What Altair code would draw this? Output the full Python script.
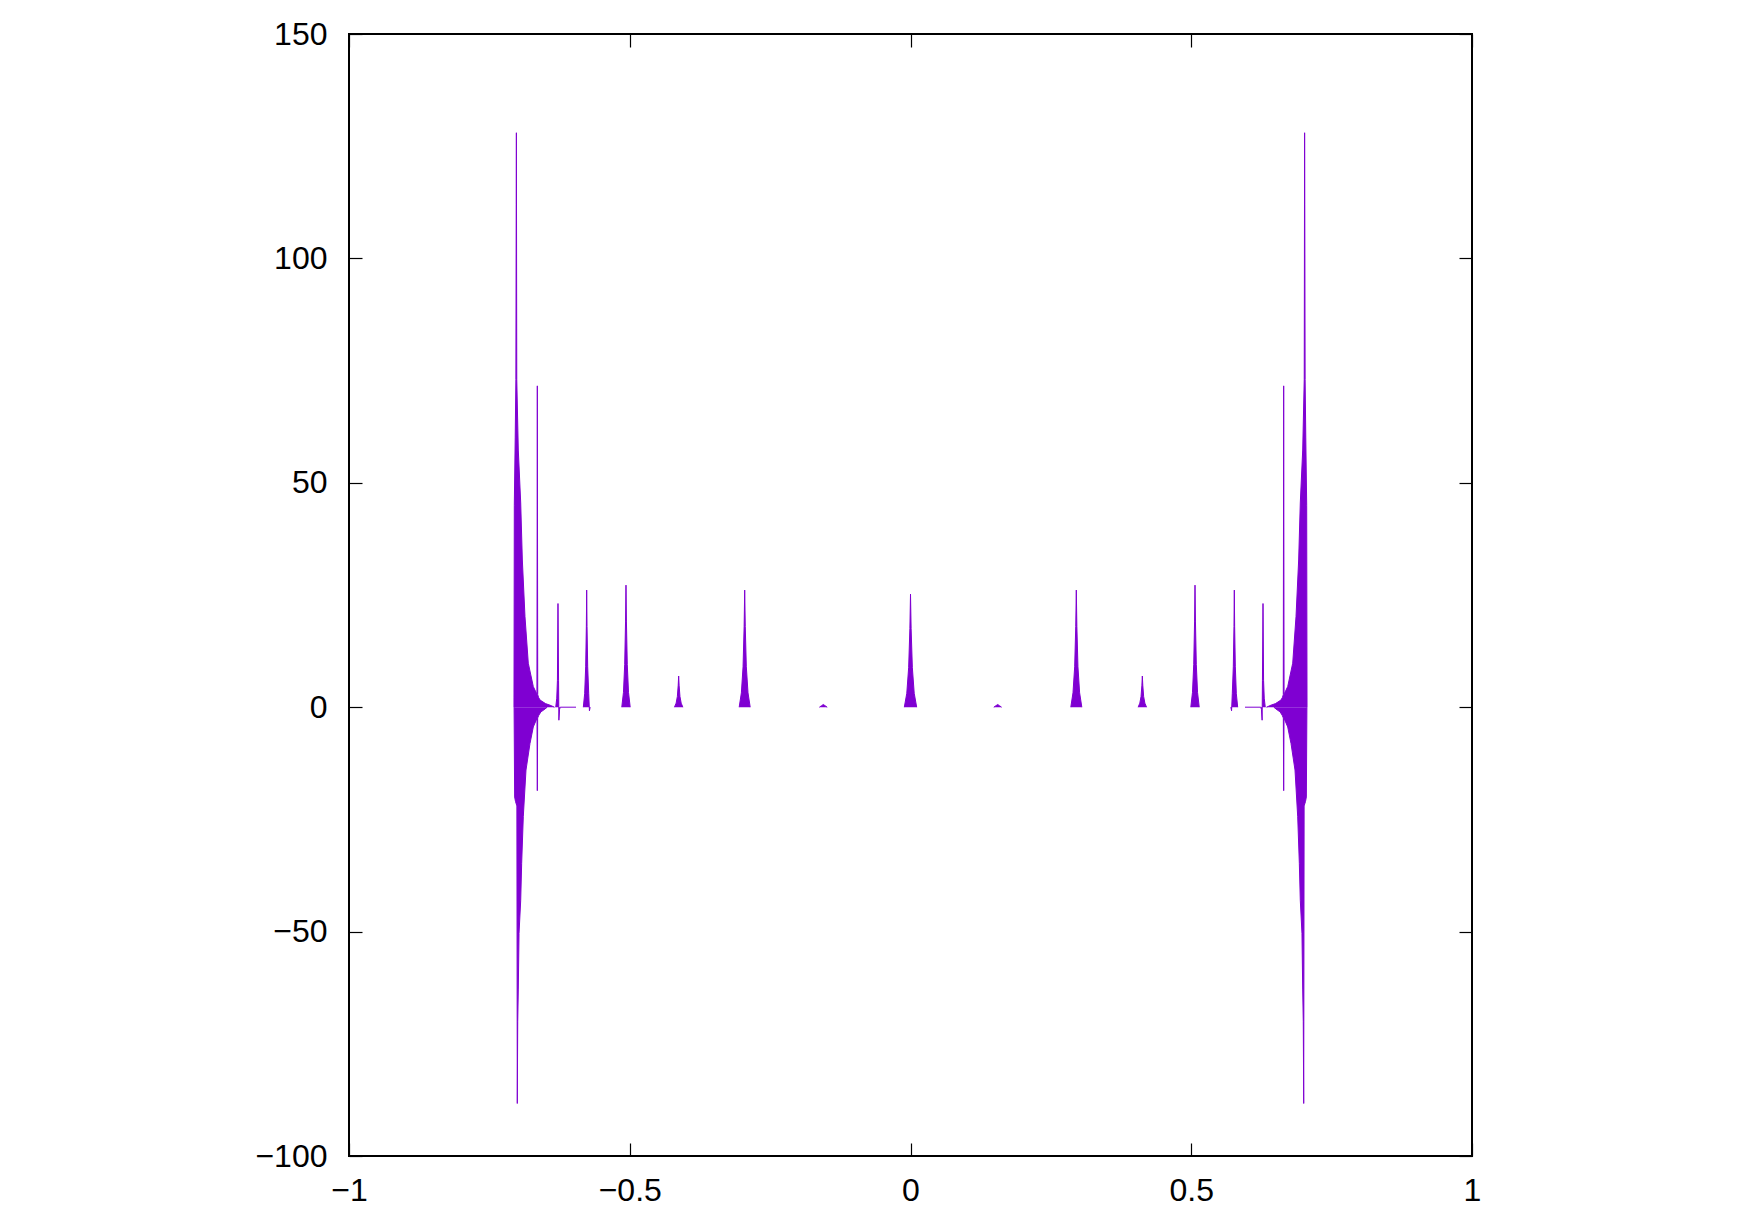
import altair as alt
import pandas as pd

# ---- data (x, y pairs grouped into drawn segments) ----
seg_left_cluster_up_x = [-0.7062, -0.7056, -0.7040, -0.7028, -0.7022, -0.7019, -0.7012, -0.7000, -0.6985, -0.6942,
                         -0.6913, -0.6866, -0.6807, -0.6718, -0.6665, -0.6653, -0.6646, -0.6639, -0.6625, -0.6598,
                         -0.6500, -0.6420, -0.6340]
seg_left_cluster_up_y = [0, 45, 60, 73, 112, 128, 73, 66, 57.3, 45.5,
                         32.8, 20.2, 9.8, 4.6, 3.2, 3.0, 71.6, 2.8, 2.2, 1.6,
                         0.8, 0.45, 0]
seg_left_cluster_dn_x = [-0.7060, -0.7050, -0.7035, -0.7010, -0.7003, -0.6995, -0.6985, -0.6972, -0.6942, -0.6925,
                         -0.6896, -0.6848, -0.6777, -0.6718, -0.6670, -0.6652, -0.6646, -0.6640, -0.6620, -0.6580,
                         -0.6540, -0.6470]
seg_left_cluster_dn_y = [0, -20, -21, -22, -88.3, -70, -63, -50.4, -43, -34.8,
                         -24.4, -14, -8.1, -4.4, -3.0, -2.6, -18.6, -2.4, -1.8, -1.0,
                         -0.7, 0]
peak_m0628_x = [-0.6318, -0.6300, -0.6288, -0.6278, -0.6268, -0.6262, -0.6250, -0.6238]
peak_m0628_y = [0, 2, 6, 23.1, 6, -2.9, -0.5, 0]
flat_left_x = [-0.6238, -0.5957]
flat_left_y = [0, 0]
peak_m0577_x = [-0.5827, -0.5803, -0.5785, -0.5773, -0.5767, -0.5761, -0.5749, -0.5731, -0.5718, -0.5705]
peak_m0577_y = [0, 3, 9, 18, 26.1, 18, 9, 3, -0.8, 0]
peak_m0507_x = [-0.5142, -0.5112, -0.5090, -0.5075, -0.5067, -0.5059, -0.5044, -0.5022, -0.4992]
peak_m0507_y = [0, 3.3, 9.5, 19, 27.2, 19, 9.5, 3.3, 0]
peak_m0413_x = [-0.4204, -0.4174, -0.4152, -0.4137, -0.4129, -0.4121, -0.4106, -0.4084, -0.4054]
peak_m0413_y = [0, 0.9, 2.4, 4.9, 6.95, 4.9, 2.4, 0.9, 0]
peak_m0295_x = [-0.3051, -0.3012, -0.2982, -0.2963, -0.2953, -0.2943, -0.2924, -0.2894, -0.2855]
peak_m0295_y = [0, 3.2, 9, 18, 26.1, 18, 9, 3.2, 0]
bump_m0155_x = [-0.1623, -0.1583, -0.1553, -0.1523, -0.1483]
bump_m0155_y = [0, 0.35, 0.6, 0.35, 0]
peak_0_x = [-0.0110, -0.0066, -0.0033, -0.0011, 0.0, 0.0011, 0.0033, 0.0066, 0.0110]
peak_0_y = [0, 3.1, 8.8, 17.5, 25.2, 17.5, 8.8, 3.1, 0]
bump_p0155_x = [0.1483, 0.1523, 0.1553, 0.1583, 0.1623]
bump_p0155_y = [0, 0.35, 0.6, 0.35, 0]
peak_p0295_x = [0.2855, 0.2894, 0.2924, 0.2943, 0.2953, 0.2963, 0.2982, 0.3012, 0.3051]
peak_p0295_y = [0, 3.2, 9, 18, 26.1, 18, 9, 3.2, 0]
peak_p0413_x = [0.4054, 0.4084, 0.4106, 0.4121, 0.4129, 0.4137, 0.4152, 0.4174, 0.4204]
peak_p0413_y = [0, 0.9, 2.4, 4.9, 6.95, 4.9, 2.4, 0.9, 0]
peak_p0507_x = [0.4992, 0.5022, 0.5044, 0.5059, 0.5067, 0.5075, 0.5090, 0.5112, 0.5142]
peak_p0507_y = [0, 3.3, 9.5, 19, 27.2, 19, 9.5, 3.3, 0]
peak_p0577_x = [0.5705, 0.5718, 0.5731, 0.5749, 0.5761, 0.5767, 0.5773, 0.5785, 0.5803, 0.5827]
peak_p0577_y = [0, -0.8, 3, 9, 18, 26.1, 18, 9, 3, 0]
flat_right_x = [0.5957, 0.6238]
flat_right_y = [0, 0]
peak_p0628_x = [0.6238, 0.6250, 0.6262, 0.6268, 0.6278, 0.6288, 0.6300, 0.6318]
peak_p0628_y = [0, -0.5, -2.9, 6, 23.1, 6, 2, 0]
seg_right_cluster_up_x = [0.6340, 0.6420, 0.6500, 0.6598, 0.6625, 0.6639, 0.6646, 0.6653, 0.6665, 0.6718,
                          0.6807, 0.6866, 0.6913, 0.6942, 0.6985, 0.7000, 0.7012, 0.7019, 0.7022, 0.7028,
                          0.7040, 0.7056, 0.7062]
seg_right_cluster_up_y = [0, 0.45, 0.8, 1.6, 2.2, 2.8, 71.6, 3.0, 3.2, 4.6,
                          9.8, 20.2, 32.8, 45.5, 57.3, 66, 73, 128, 112, 73,
                          60, 45, 0]
seg_right_cluster_dn_x = [0.6470, 0.6540, 0.6580, 0.6620, 0.6640, 0.6646, 0.6652, 0.6670, 0.6718, 0.6777,
                          0.6848, 0.6896, 0.6925, 0.6942, 0.6972, 0.6985, 0.6995, 0.7003, 0.7010, 0.7035,
                          0.7050, 0.7060]
seg_right_cluster_dn_y = [0, -0.7, -1.0, -1.8, -2.4, -18.6, -2.6, -3.0, -4.4, -8.1,
                          -14, -24.4, -34.8, -43, -50.4, -63, -70, -88.3, -22, -21,
                          -20, 0]

segments = [
    ("left_up", seg_left_cluster_up_x, seg_left_cluster_up_y),
    ("left_dn", seg_left_cluster_dn_x, seg_left_cluster_dn_y),
    ("m0628", peak_m0628_x, peak_m0628_y),
    ("flat_l", flat_left_x, flat_left_y),
    ("m0577", peak_m0577_x, peak_m0577_y),
    ("m0507", peak_m0507_x, peak_m0507_y),
    ("m0413", peak_m0413_x, peak_m0413_y),
    ("m0295", peak_m0295_x, peak_m0295_y),
    ("m0155", bump_m0155_x, bump_m0155_y),
    ("p0000", peak_0_x, peak_0_y),
    ("p0155", bump_p0155_x, bump_p0155_y),
    ("p0295", peak_p0295_x, peak_p0295_y),
    ("p0413", peak_p0413_x, peak_p0413_y),
    ("p0507", peak_p0507_x, peak_p0507_y),
    ("p0577", peak_p0577_x, peak_p0577_y),
    ("flat_r", flat_right_x, flat_right_y),
    ("p0628", peak_p0628_x, peak_p0628_y),
    ("right_up", seg_right_cluster_up_x, seg_right_cluster_up_y),
    ("right_dn", seg_right_cluster_dn_x, seg_right_cluster_dn_y),
]

x_ticks = [-1, -0.5, 0, 0.5, 1]
y_ticks = [-100, -50, 0, 50, 100, 150]

rows = []
for name, xs, ys in segments:
    for xv, yv in zip(xs, ys):
        rows.append({"seg": name, "x": xv, "y": yv})
df = pd.DataFrame(rows)

COLOR = "#7F00D2"
FONT = "Liberation Sans"
TICK = 13

xscale = alt.Scale(domain=[-1, 1], nice=False, zero=False)
yscale = alt.Scale(domain=[-100, 150], nice=False, zero=False)


def axis(orient, labels=True, pad=22):
    kw = dict(orient=orient, values=x_ticks if orient in ("top", "bottom") else y_ticks,
              domain=False, grid=False, ticks=True, tickSize=TICK, offset=-TICK,
              tickColor="black", tickWidth=1.2, title=None, labels=labels)
    if labels:
        kw.update(labelFont=FONT, labelFontSize=32, labelColor="black",
                  labelPadding=pad, labelOverlap=False, labelFlush=False, format="~f")
    return alt.Axis(**kw)


base = alt.Chart(df)

area = base.mark_area(color=COLOR, opacity=1, interpolate="linear").encode(
    x=alt.X("x:Q", scale=xscale, axis=axis("bottom", pad=19)),
    y=alt.Y("y:Q", scale=yscale, axis=axis("left", pad=22), stack=None),
    y2=alt.datum(0),
    detail="seg:N",
)

line = base.mark_line(color=COLOR, strokeWidth=1, interpolate="linear").encode(
    x=alt.X("x:Q", scale=xscale, axis=axis("top", labels=False)),
    y=alt.Y("y:Q", scale=yscale, axis=axis("right", labels=False)),
    detail="seg:N",
    order="x:Q",
)

chart = alt.layer(area, line).resolve_axis(x="independent", y="independent").properties(
    width=1123, height=1122,
    autosize=alt.AutoSizeParams(type="none"),
    padding={"left": 341, "top": 26, "right": 250, "bottom": 60},
    background="white",
).configure_view(stroke="black", strokeWidth=2)

chart.save("out.html", embed_options={"renderer": "svg", "actions": False})
